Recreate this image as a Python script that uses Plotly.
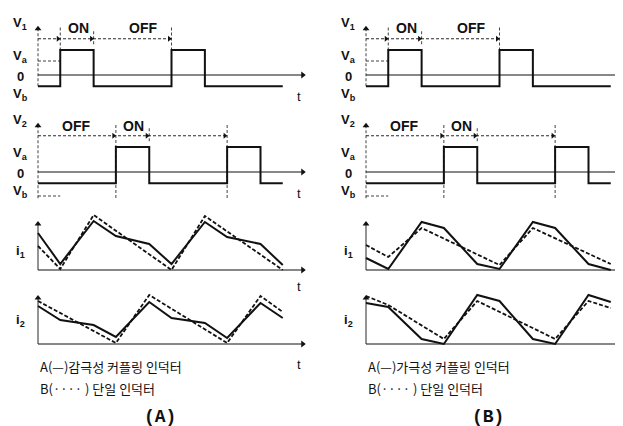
import plotly.graph_objects as go

# ---------------- data (time in units of T/10, voltages in Va units, currents arbitrary) ----------------
V1_T = [0, 2, 2, 5, 5, 12, 12, 15, 15, 22]
V1_V = [-0.45, -0.45, 1, 1, -0.45, -0.45, 1, 1, -0.45, -0.45]
V2_T = [0, 7, 7, 10, 10, 17, 17, 20, 20, 22]
V2_V = [-0.45, -0.45, 1, 1, -0.45, -0.45, 1, 1, -0.45, -0.45]
V1_MARKS = [0, 2, 5, 12]
V2_MARKS = [0, 7, 10, 17]
V1_PHASES = ["ON", "OFF"]
V2_PHASES = ["OFF", "ON"]

T_I = [0, 2, 5, 7, 10, 12, 15, 17, 20, 22]
A_I1_SOLID = [3.7, 0.6, 4.9, 3.4, 2.6, 0.6, 4.8, 3.3, 2.6, 0.5]
A_I1_DASH_T = [0, 2, 5, 12, 15, 22]
A_I1_DASH = [2.4, 0.1, 5.5, 0.0, 5.4, 0.0]
A_I2_SOLID = [3.8, 2.4, 1.9, 0.7, 4.2, 2.6, 2.1, 0.6, 4.1, 2.6]
A_I2_DASH_T = [0, 7, 10, 17, 20, 22]
A_I2_DASH = [4.3, 0.1, 4.9, 0.1, 4.8, 3.2]

B_I1_SOLID = [1.2, 0.1, 4.8, 4.2, 0.6, 0.1, 4.8, 4.2, 0.6, 0.0]
B_I1_DASH_T = [0, 2, 5, 12, 15, 22]
B_I1_DASH = [2.5, 1.3, 4.2, 0.5, 4.2, 0.6]
B_I2_SOLID = [4.1, 3.7, 0.5, 0.0, 4.9, 4.3, 0.5, 0.0, 4.9, 4.2]
B_I2_DASH_T = [0, 2, 7, 10, 17, 20, 22]
B_I2_DASH = [4.8, 3.9, 0.5, 4.3, 0.5, 4.3, 3.6]

LEGEND_A = ["A(—)감극성 커플링 인덕터", "B(···· ) 단일 인덕터"]
LEGEND_B = ["A(—)가극성 커플링 인덕터", "B(···· ) 단일 인덕터"]
CAPTIONS = ["(A)", "(B)"]

# ---------------- layout geometry ----------------
W, H = 623, 426
PPU = 11.125                      # px per time unit
OX = [30, 358]                    # px of time origin per column
COL_DOM = [(0, 312), (312, 618)]
Y0 = [67, 164, 262, 336]          # px of value 0 per row
PPY = [25, 25, 10, 10]            # px per value unit per row
ROW_BAND = [(0, 96), (96, 196), (196, 284), (284, 368)]
T_END = [24, 23.6]
T_LABEL = [23.5, 23.1]

INK = "#111111"
FONT = "Liberation Sans, Arial, sans-serif"

fig = go.Figure()
annotations = []
layout_axes = {}


def pid(row, col):
    return row * 2 + col + 1


for row in range(4):
    for col in range(2):
        k = pid(row, col)
        d0, d1 = COL_DOM[col]
        b0, b1 = ROW_BAND[row]
        xs = "xaxis" if k == 1 else f"xaxis{k}"
        ys = "yaxis" if k == 1 else f"yaxis{k}"
        layout_axes[xs] = dict(domain=[d0 / W, d1 / W],
                               range=[(d0 - OX[col]) / PPU, (d1 - OX[col]) / PPU],
                               visible=False, fixedrange=True, anchor=f"y{k}")
        layout_axes[ys] = dict(domain=[1 - b1 / H, 1 - b0 / H],
                               range=[(Y0[row] - b1) / PPY[row], (Y0[row] - b0) / PPY[row]],
                               visible=False, fixedrange=True, anchor=f"x{k}")


def line(k, x, y, width=1.0, dash=None, color=INK):
    fig.add_trace(go.Scatter(x=x, y=y, mode="lines", xaxis=f"x{k}", yaxis=f"y{k}",
                             line=dict(color=color, width=width, dash=dash),
                             hoverinfo="skip", showlegend=False, cliponaxis=False))


def head(k, x, y, symbol, size=7):
    fig.add_trace(go.Scatter(x=[x], y=[y], mode="markers", xaxis=f"x{k}", yaxis=f"y{k}",
                             marker=dict(symbol=symbol, size=size, color=INK, line=dict(width=0)),
                             hoverinfo="skip", showlegend=False, cliponaxis=False))


def text(k, x, y, s, size=13, xanchor="center", bold=True):
    annotations.append(dict(x=x, y=y, xref=f"x{k}", yref=f"y{k}",
                            text=f"<b>{s}</b>" if bold else s, showarrow=False,
                            xanchor=xanchor, yanchor="middle",
                            font=dict(family=FONT, size=size, color=INK)))


for col in range(2):
    te = T_END[col]
    # ---------- voltage rows ----------
    for row, (vt, vv, marks, phases, name) in enumerate(
            [(V1_T, V1_V, V1_MARKS, V1_PHASES, "1"), (V2_T, V2_V, V2_MARKS, V2_PHASES, "2")]):
        k = pid(row, col)
        line(k, [0, 0], [-1.05 if row == 1 else -0.45, 1.85], width=0.8, dash="3px,2px")
        head(k, 0, 1.85, "triangle-up", 6)
        line(k, [0, te - 0.2], [0, 0], width=1.2)
        head(k, te - 0.2, 0, "triangle-right", 6)
        line(k, vt, vv, width=2.0)
        # dimension line
        line(k, [marks[0], marks[-1]], [1.45, 1.45], width=0.9, dash="3px,2px")
        for m in marks[1:]:
            head(k, m - 0.2, 1.45, "triangle-right", 5)
        # guide verticals
        line(k, [marks[1], marks[1]], [1.9, 1.0] if row == 0 else [1.88, -1.04], width=0.8, dash="3px,2px")
        line(k, [marks[2], marks[2]], [1.75, 1.2], width=0.8, dash="3px,2px")
        line(k, [marks[3], marks[3]], [1.9, 1.0] if row == 0 else [1.88, -1.04], width=0.8, dash="3px,2px")
        if row == 0:
            line(k, [0, marks[1]], [0.56, 0.56], width=0.8, dash="3px,2px")
        else:
            line(k, [0, 2], [-0.96, -0.96], width=0.8, dash="3px,2px")
        # labels
        text(k, -1.6, 2.08, f"V<sub>{name}</sub>")
        text(k, -1.6, 0.76, "V<sub>a</sub>")
        text(k, -1.6, -0.04, "0")
        text(k, -1.6, -0.78, "V<sub>b</sub>")
        text(k, T_LABEL[col], -0.84, "t", bold=False)
        if row == 0:
            text(k, 3.6, 1.88, phases[0], size=14)
            text(k, 9.4, 1.88, phases[1], size=14)
        else:
            text(k, 3.4, 1.84, phases[0], size=14)
            text(k, 8.6, 1.84, phases[1], size=14)

    # ---------- current rows ----------
    series = [(A_I1_SOLID, A_I1_DASH_T, A_I1_DASH, A_I2_SOLID, A_I2_DASH_T, A_I2_DASH),
              (B_I1_SOLID, B_I1_DASH_T, B_I1_DASH, B_I2_SOLID, B_I2_DASH_T, B_I2_DASH)][col]
    for j, row in enumerate([2, 3]):
        k = pid(row, col)
        solid = series[3 * j]
        dt, dv = series[3 * j + 1], series[3 * j + 2]
        line(k, [0, 0], [0, 4.6], width=0.9)
        head(k, 0, 4.6, "triangle-up", 6)
        line(k, [0, te - 0.2], [0, 0], width=1.0)
        head(k, te - 0.2, 0, "triangle-right", 6)
        line(k, dt, dv, width=1.8, dash="4px,2px")
        line(k, T_I, solid, width=2.0)
        text(k, -1.6, 1.9 if row == 2 else 2.4, f"i<sub>{j + 1}</sub>")
        text(k, T_LABEL[col], -1.6 if row == 2 else -2.0, "t", bold=False)

# ---------- legends and captions (paper coords) ----------
for col, leg in enumerate([LEGEND_A, LEGEND_B]):
    for i, s in enumerate(leg):
        annotations.append(dict(x=OX[col] / W, y=1 - (358 + 22 * i) / H, xref="paper", yref="paper",
                                text=s, showarrow=False, xanchor="left", yanchor="middle",
                                font=dict(family="Noto Sans CJK KR, Liberation Sans, sans-serif",
                                          size=13, color=INK)))
    annotations.append(dict(x=(OX[col] + 122) / W, y=1 - 409 / H, xref="paper", yref="paper",
                            text=f"<b>{CAPTIONS[col]}</b>", showarrow=False, xanchor="center",
                            yanchor="middle",
                            font=dict(family="Liberation Mono, DejaVu Sans Mono, monospace",
                                      size=18, color=INK)))

fig.update_layout(width=W, height=H, margin=dict(l=0, r=0, t=0, b=0),
                  paper_bgcolor="white", plot_bgcolor="rgba(0,0,0,0)",
                  showlegend=False, annotations=annotations, **layout_axes)

fig.write_html("out.html", config={"displayModeBar": False})
